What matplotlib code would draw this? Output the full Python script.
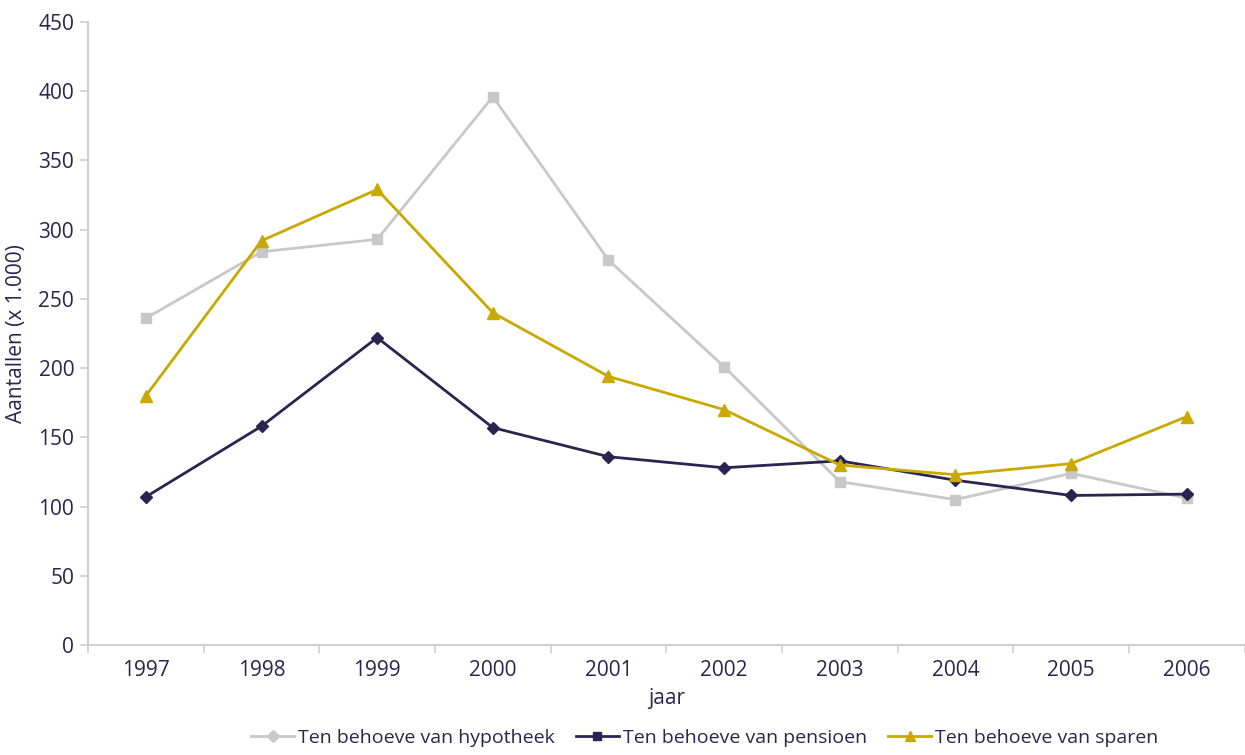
import numpy as np
import matplotlib.pyplot as plt
from matplotlib.lines import Line2D

years = ['1997', '1998', '1999', '2000', '2001', '2002', '2003', '2004', '2005', '2006']
hypotheek = [236, 284, 293, 396, 278, 201, 118, 105, 124, 106]
pensioen = [107, 158, 222, 157, 136, 128, 133, 119, 108, 109]
sparen = [180, 292, 329, 240, 194, 170, 130, 123, 131, 165]

txt = '#2a2550'
grey = '#c8c8c8'
navy = '#2a2550'
gold = '#c9a800'
axcol = '#d0d0d0'

plt.rcParams['font.family'] = ['Open Sans', 'DejaVu Sans']

fig = plt.figure(figsize=(12.45, 7.55), dpi=100)
ax = fig.add_axes([0.0707, 0.1457, 0.929, 0.8252])

x = np.arange(len(years))
ax.plot(x, hypotheek, color=grey, lw=2, marker='s', ms=7)
ax.plot(x, pensioen, color=navy, lw=2, marker='D', ms=6)
ax.plot(x, sparen, color=gold, lw=2, marker='^', ms=8)

ax.set_xlim(-0.5, len(years) - 0.5)
ax.set_ylim(0, 450)
ax.set_yticks(range(0, 451, 50))
ax.set_xticks(x)
ax.set_xticklabels(years)
ax.set_xticks(np.arange(-0.5, len(years), 1), minor=True)
ax.tick_params(axis='x', which='major', length=0, pad=11, labelsize=15, colors=txt)
ax.tick_params(axis='x', which='minor', length=6, color=axcol, width=1.2)
ax.tick_params(axis='y', length=6, color=axcol, width=1.2, labelsize=15, colors=txt, pad=4)

for s in ['top', 'right']:
    ax.spines[s].set_visible(False)
for s in ['left', 'bottom']:
    ax.spines[s].set_color(axcol)
    ax.spines[s].set_linewidth(1.5)

ax.set_xlabel('jaar', fontsize=15, color=txt, labelpad=5)
ax.set_ylabel('Aantallen (x 1.000)', fontsize=15, color=txt, labelpad=8)

handles = [
    Line2D([], [], color=grey, lw=2, marker='D', ms=6),
    Line2D([], [], color=navy, lw=2, marker='s', ms=6),
    Line2D([], [], color=gold, lw=2, marker='^', ms=7),
]
labels = ['Ten behoeve van hypotheek', 'Ten behoeve van pensioen', 'Ten behoeve van sparen']
leg = fig.legend(handles, labels, loc='lower center', bbox_to_anchor=(0.566, -0.012), ncol=3,
                 frameon=False, fontsize=14, handlelength=2.2, handletextpad=0.2,
                 columnspacing=1.1)
for t in leg.get_texts():
    t.set_color(txt)

fig.savefig('out.png', dpi=100)
